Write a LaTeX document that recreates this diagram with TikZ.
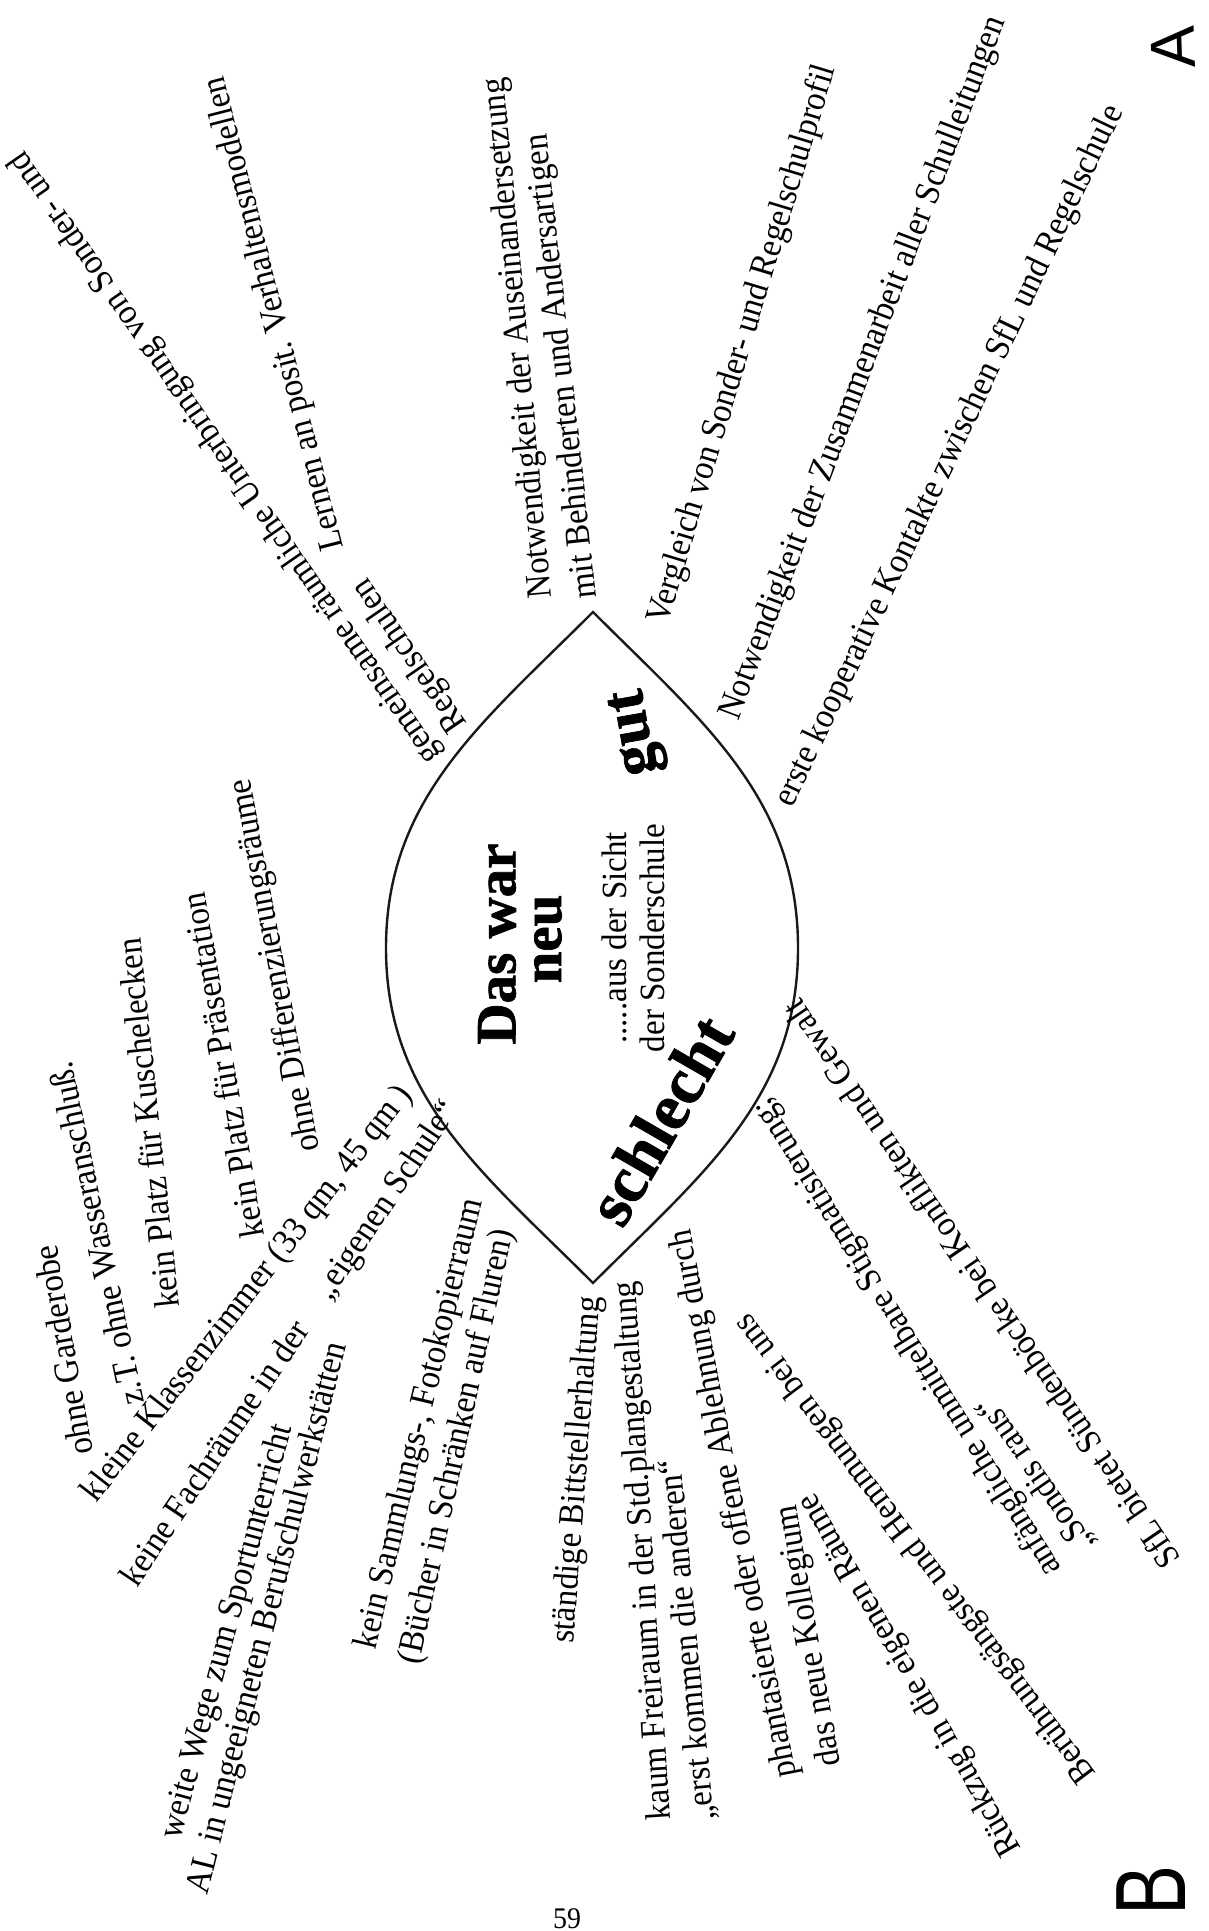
\documentclass[tikz,border=0pt]{standalone}
\usepackage{graphicx}
\usepackage{fontspec}
\setmainfont{Liberation Serif}[FakeStretch=0.93]
\newfontfamily\headfont{Liberation Serif}[FakeBold=1.2]
\newfontfamily\handfont{Liberation Sans}
\begin{document}
\begin{tikzpicture}[x=1pt, y=-1pt,
  lbl/.style={font=\fontsize{35.5}{40}\selectfont, inner sep=0pt, anchor=mid west},
  mid/.style={font=\fontsize{35.5}{40}\selectfont, inner sep=0pt, anchor=center},
  head/.style={font=\headfont\bfseries\fontsize{57}{60}\selectfont, inner sep=0pt, anchor=center},
  lens/.style={line width=2.4pt, draw=black!90},
  hand/.style={font=\handfont\fontsize{63}{63}\selectfont, inner sep=0pt, anchor=center}]
\fill[white] (0,0) rectangle (1208,1931);
\useasboundingbox (0,0) rectangle (1208,1931);

% lens
\draw[lens] (593,612) coordinate (ltop)
  .. controls (703,722) and (798,798) .. (798,948) coordinate (lright)
  .. controls (798,1098) and (703,1173) .. (593,1283) coordinate (lbot)
  .. controls (483,1173) and (386,1098) .. (386,948) coordinate (lleft)
  .. controls (386,798) and (483,722) .. cycle;

% centre texts
\node[head, rotate=90] (daswar) at (497,944) {Das war};
\node[head, rotate=90] (neu) at (548,939) {neu};
\node[head, font=\headfont\bfseries\fontsize{62}{62}\selectfont, rotate=100] (gut) at (638,732) {gut};
\node[head, font=\headfont\bfseries\fontsize{66}{66}\selectfont, rotate=60] (schlecht) at (660,1120) {schlecht};
\node[mid, rotate=90] (sicht) at (614,938) {.....aus der Sicht};
\node[mid, rotate=90] (sonder) at (652,938) {der Sonderschule};

% gut branches
\node[lbl, rotate=95.2] (g1) at (549,598) {Notwendigkeit der Auseinandersetzung};
\node[lbl, rotate=96.1] (g2) at (594,598) {mit Behinderten und Andersartigen};
\node[lbl, rotate=73.2] (g3) at (665,625) {Vergleich von Sonder- und Regelschulprofil};
\node[lbl, rotate=69.1] (g4) at (736,721) {Notwendigkeit der Zusammenarbeit aller Schulleitungen};
\node[lbl, rotate=64.6] (g5) at (790,808) {erste kooperative Kontakte zwischen SfL und Regelschule};
\node[lbl, rotate=124.6] (g6) at (440,757) {gemeinsame räumliche Unterbringung von Sonder- und};
\node[lbl, rotate=124.6] (g7) at (466,725) {Regelschulen};
\node[lbl, rotate=104.2] (g8) at (341,548) {Lernen an posit. Verhaltensmodellen};

% schlecht branches
\node[lbl, rotate=100] (b1) at (91,1453) {ohne Garderobe};
\node[lbl, rotate=102] (b2) at (142,1403) {z.T. ohne Wasseranschluß.};
\node[lbl, rotate=96] (b3) at (177,1307) {kein Platz für Kuschelecken};
\node[lbl, rotate=99.8] (b4) at (262,1236) {kein Platz für Präsentation};
\node[lbl, rotate=100.6] (b5) at (317,1150) {ohne Differenzierungsräume};
\node[lbl, rotate=52.2] (b6) at (95,1502) {kleine Klassenzimmer (33 qm, 45 qm )};
\node[lbl, rotate=56] (b7) at (135,1587) {keine Fachräume in der\quad„eigenen Schule“};
\node[lbl, rotate=74.8] (b8) at (178,1840) {weite Wege zum Sportunterricht};
\node[lbl, rotate=75.8] (b9) at (205,1895) {AL in ungeeigneten Berufschulwerkstätten};
\node[lbl, rotate=76.6] (b10) at (373,1650) {kein Sammlungs-, Fotokopierraum};
\node[lbl, rotate=77.8] (b11) at (417,1665) {(Bücher in Schränken auf Fluren)};
\node[lbl, rotate=85.6] (b12) at (571,1644) {ständige Bittstellerhaltung};
\node[lbl, rotate=93.7] (b13) at (668,1820) {kaum Freiraum in der Std.plangestaltung};
\node[lbl, rotate=95.3] (b14) at (712,1820) {„erst kommen die anderen“};
\node[lbl, rotate=101] (b15) at (794,1776) {phantasierte oder offene Ablehnung durch};
\node[lbl, rotate=99.6] (b16) at (838,1765) {das neue Kollegium};
\node[lbl, rotate=124.2] (b17) at (1180,1560) {SfL bietet Sündenböcke bei Konflikten und Gewalt};
\node[lbl, rotate=121.9] (b18) at (1060,1570) {anfängliche unmittelbare Stigmatisierung;};
\node[lbl, rotate=124.8] (b19) at (1094,1546) {„Sondis raus“};
\node[lbl, rotate=127] (b20) at (1095,1775) {Berührungsängste und Hemmungen bei uns};
\node[lbl, rotate=120.2] (b21) at (1020,1850) {Rückzug in die eigenen Räume};

% marks
\node[hand, rotate=92] (markA) at (1173,47) {A};
\node[hand, font=\handfont\fontsize{100}{100}\selectfont, rotate=90] (markB) at (1151,1890) {\scalebox{0.75}[1]{B}};
\node[font=\fontsize{30}{30}\selectfont, inner sep=0pt, anchor=base] (page) at (567,1928) {59};
\end{tikzpicture}
\end{document}
